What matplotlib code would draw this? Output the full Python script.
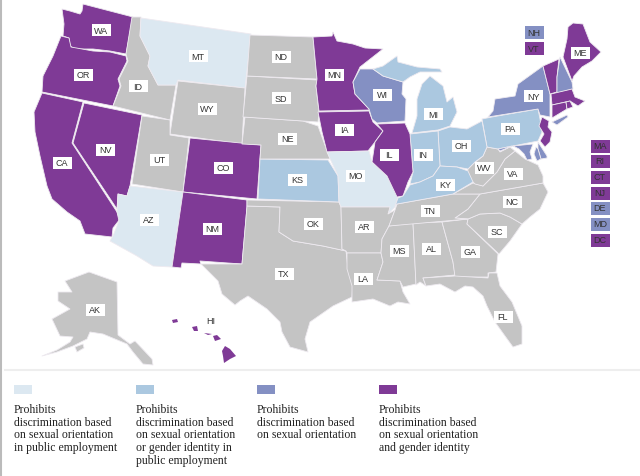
import matplotlib

matplotlib.use('agg')
import matplotlib.pyplot as plt
from matplotlib.patches import Polygon, Rectangle

plt.rcParams["font.family"] = ["Liberation Sans", "DejaVu Sans"]

W, H = 640, 477

# Colours of the four law types plus "no law"
NONE = "#c4c4c4"
PUBLIC_SO = "#dce8f1"
PUBLIC_SOGI = "#abc8e0"
SO_ONLY = "#8490c3"
SO_GI = "#7f3a96"

# State groups
no_law = ["ID", "WY", "UT", "ND", "SD", "NE", "OK", "TX", "AR", "LA", "MS", "AL", "TN", "GA", "SC", "NC", "VA", "WV", "FL", "AK"]
public_so = ["MT", "AZ", "MO"]
public_sogi = ["KS", "IN", "KY", "OH", "PA", "MI"]
so_only = ["WI", "NY", "NH", "MD", "DE"]
so_gi = ["WA", "OR", "CA", "NV", "CO", "NM", "MN", "IA", "IL", "ME", "VT", "MA", "RI", "CT", "NJ", "HI"]

# State outlines (pixels)
shapes = {
    "WA": [[(83, 5), (133, 18), (126, 55), (110, 52), (93, 50), (75, 50), (70, 47), (69, 39), (63, 37), (64, 25), (62, 10), (70, 12), (80, 15), (82, 12)]],
    "OR": [[(61, 37), (69, 39), (71, 48), (93, 52), (110, 53), (126, 57), (127, 62), (118, 80), (120, 87), (113, 107), (42, 93), (43, 77), (53, 57)]],
    "CA": [[(42, 94), (83, 103), (72, 144), (117, 213), (120, 220), (113, 229), (112, 238), (85, 235), (80, 222), (67, 213), (52, 200), (47, 187), (40, 157), (35, 133), (34, 113)]],
    "NV": [[(84, 104), (142, 116), (130, 187), (127, 197), (118, 195), (117, 210), (73, 144)]],
    "ID": [[(132, 18), (141, 18), (140, 37), (150, 57), (148, 67), (158, 86), (176, 86), (170, 121), (113, 107), (121, 87), (119, 80), (128, 62), (126, 55)]],
    "MT": [[(141, 19), (251, 35), (245, 89), (178, 81), (176, 86), (158, 86), (148, 67), (150, 57), (140, 37)]],
    "WY": [[(178, 82), (245, 89), (242, 145), (170, 135)]],
    "UT": [[(142, 117), (170, 121), (170, 136), (189, 139), (183, 193), (132, 185)]],
    "CO": [[(190, 139), (261, 146), (257, 200), (183, 193)]],
    "AZ": [[(130, 187), (183, 193), (172, 268), (153, 267), (137, 257), (110, 242), (113, 237), (119, 222), (117, 213), (118, 195), (127, 197)]],
    "NM": [[(183, 193), (247, 201), (247, 208), (242, 265), (200, 262), (201, 265), (182, 264), (181, 269), (172, 268)]],
    "TX": [[(247, 207), (280, 208), (279, 233), (293, 242), (323, 247), (346, 252), (348, 270), (353, 283), (352, 298), (333, 307), (310, 323), (305, 340), (308, 353), (290, 348), (282, 333), (280, 323), (267, 310), (248, 297), (240, 302), (235, 306), (222, 295), (218, 282), (201, 265), (242, 265)]],
    "OK": [[(247, 201), (339, 203), (341, 208), (342, 250), (346, 252), (323, 247), (293, 242), (279, 233), (280, 208), (247, 207)]],
    "KS": [[(260, 160), (328, 161), (338, 177), (339, 203), (258, 200)]],
    "NE": [[(245, 118), (303, 122), (318, 127), (330, 160), (260, 160), (261, 146), (242, 145)]],
    "SD": [[(247, 77), (317, 81), (316, 87), (319, 113), (318, 123), (303, 122), (243, 118)]],
    "ND": [[(250, 36), (313, 38), (317, 80), (247, 77)]],
    "MN": [[(313, 38), (332, 37), (333, 33), (337, 42), (353, 45), (365, 49), (383, 50), (360, 68), (353, 83), (355, 95), (370, 111), (319, 112), (316, 87), (317, 80)]],
    "IA": [[(318, 113), (369, 112), (373, 123), (383, 132), (375, 143), (368, 152), (327, 153), (322, 133)]],
    "MO": [[(327, 153), (369, 152), (372, 163), (387, 177), (398, 198), (395, 208), (388, 215), (390, 208), (341, 208), (339, 203), (338, 177)]],
    "AR": [[(341, 208), (390, 208), (388, 215), (395, 211), (389, 227), (382, 240), (381, 254), (347, 254), (346, 252), (342, 250)]],
    "LA": [[(347, 254), (381, 254), (383, 263), (377, 281), (400, 282), (403, 293), (410, 305), (398, 303), (390, 307), (373, 300), (352, 303), (352, 287), (347, 270)]],
    "MS": [[(389, 227), (413, 224), (416, 285), (403, 288), (400, 282), (377, 281), (383, 263), (381, 254), (382, 240)]],
    "AL": [[(413, 224), (442, 223), (453, 263), (455, 276), (423, 279), (426, 287), (420, 283), (416, 286)]],
    "GA": [[(442, 223), (468, 220), (467, 225), (498, 255), (496, 273), (488, 274), (488, 278), (455, 278), (453, 263)]],
    "FL": [[(423, 279), (455, 277), (488, 279), (489, 274), (497, 274), (500, 287), (512, 303), (522, 327), (522, 345), (513, 348), (505, 337), (495, 323), (487, 307), (483, 297), (473, 288), (465, 287), (455, 293), (440, 285), (426, 287)]],
    "SC": [[(468, 220), (480, 215), (500, 214), (510, 218), (522, 225), (510, 242), (499, 255), (467, 225)]],
    "NC": [[(480, 195), (543, 184), (548, 193), (540, 210), (530, 218), (522, 225), (510, 218), (500, 214), (480, 215), (468, 220), (455, 219), (468, 210)]],
    "TN": [[(397, 205), (453, 195), (480, 195), (468, 210), (455, 219), (468, 220), (389, 227), (395, 211)]],
    "VA": [[(453, 195), (473, 184), (483, 187), (497, 173), (505, 160), (515, 152), (525, 160), (538, 166), (543, 177), (543, 184), (480, 195)]],
    "WV": [[(473, 165), (483, 157), (487, 148), (498, 150), (500, 153), (510, 148), (515, 152), (505, 160), (497, 173), (483, 187), (475, 185), (467, 177), (468, 170)]],
    "PA": [[(482, 120), (492, 118), (538, 110), (540, 120), (542, 133), (538, 142), (513, 147), (498, 150), (487, 148)]],
    "OH": [[(438, 132), (450, 128), (467, 130), (482, 122), (487, 148), (483, 157), (475, 163), (468, 170), (457, 168), (440, 167)]],
    "IN": [[(410, 135), (438, 132), (440, 167), (433, 177), (420, 183), (410, 185), (413, 173)]],
    "IL": [[(377, 125), (405, 124), (410, 135), (413, 173), (408, 183), (403, 197), (397, 198), (387, 177), (372, 163), (375, 143), (383, 132)]],
    "KY": [[(410, 186), (420, 183), (433, 177), (440, 167), (457, 168), (468, 172), (473, 183), (453, 195), (397, 205), (395, 207), (398, 199), (403, 197)]],
    "WI": [[(360, 70), (373, 70), (383, 77), (403, 83), (402, 95), (406, 100), (405, 122), (377, 124), (372, 120), (369, 110), (355, 95), (353, 83)]],
    "MI": [[(412, 134), (438, 131), (450, 127), (457, 113), (453, 98), (447, 103), (443, 87), (430, 77), (422, 85), (417, 100), (417, 117)],
           [(373, 70), (383, 67), (397, 57), (398, 63), (417, 68), (440, 70), (442, 73), (420, 73), (410, 78), (403, 83), (383, 77)]],
    "NY": [[(488, 118), (493, 112), (495, 100), (515, 97), (518, 85), (543, 67), (550, 95), (550, 118), (540, 116), (538, 110)],
           [(552, 123), (567, 116), (568, 118), (557, 126)]],
    "VT": [[(543, 67), (559, 60), (557, 78), (557, 93), (550, 95)]],
    "NH": [[(560, 58), (572, 83), (573, 90), (557, 94), (557, 78)]],
    "ME": [[(563, 58), (567, 40), (568, 28), (573, 24), (583, 25), (590, 43), (601, 53), (592, 62), (582, 68), (574, 77), (572, 82)]],
    "MA": [[(551, 95), (572, 90), (575, 98), (585, 102), (578, 107), (570, 102), (552, 106)]],
    "CT": [[(552, 106), (566, 103), (567, 110), (552, 119)]],
    "RI": [[(566, 103), (570, 102), (573, 108), (567, 110)]],
    "NJ": [[(542, 118), (549, 122), (548, 128), (552, 133), (550, 143), (545, 148), (540, 142), (544, 135), (539, 127)]],
    "DE": [[(538, 143), (547, 157), (547, 159), (541, 160), (538, 150)]],
    "MD": [[(513, 147), (533, 145), (530, 153), (532, 160), (527, 161), (524, 155), (519, 150)],
           [(498, 150), (512, 147), (500, 152)],
           [(536, 148), (538, 150), (541, 160), (537, 162), (534, 155)]],
    "AK": [[(89, 273), (117, 283), (118, 336), (130, 345), (135, 342), (152, 360), (153, 366), (143, 365), (133, 353), (127, 345), (103, 335), (90, 333), (87, 340), (73, 347), (57, 353), (42, 357), (57, 351), (70, 343), (73, 338), (60, 337), (52, 320), (70, 310), (58, 302), (58, 293), (72, 293), (65, 282)],
           [(75, 348), (83, 345), (84, 349), (77, 353)]],
    "HI": [[(172, 321), (177, 320), (178, 323), (173, 324)],
           [(192, 328), (197, 327), (198, 332), (194, 332)],
           [(204, 334), (212, 335), (208, 336)],
           [(213, 337), (217, 336), (221, 340), (215, 342)],
           [(222, 352), (225, 347), (230, 350), (236, 357), (230, 360), (224, 364), (223, 357)]],
}

# Label centres (pixels)
state_labels = {
    "WA": (101, 31), "OR": (83, 76), "CA": (62, 164), "NV": (105, 151), "ID": (138, 87),
    "MT": (198, 57), "WY": (207, 110), "UT": (159, 161), "CO": (223, 169), "AZ": (149, 221),
    "NM": (212, 230), "ND": (281, 58), "SD": (281, 99), "NE": (287, 140), "KS": (297, 181),
    "OK": (313, 225), "TX": (284, 275), "MN": (334, 76), "IA": (344, 131), "MO": (355, 177),
    "AR": (364, 228), "LA": (363, 280), "WI": (382, 96), "IL": (389, 156), "MS": (399, 252),
    "AL": (431, 250), "TN": (430, 212), "KY": (445, 186), "IN": (423, 156), "MI": (433, 115),
    "OH": (461, 147), "WV": (484, 169), "VA": (513, 175), "NC": (512, 203), "SC": (497, 233),
    "GA": (470, 253), "FL": (503, 318), "PA": (510, 130), "NY": (533, 97), "ME": (580, 54),
    "AK": (95, 311),
}

# Small states keyed in coloured boxes beside the map
side_boxes = {
    "NH": (534, 33), "VT": (534, 49), "MA": (600, 147), "RI": (600, 162), "CT": (600, 178),
    "NJ": (600, 194), "DE": (600, 209), "MD": (600, 225), "DC": (600, 241),
}
side_colors = {"NH": SO_ONLY, "VT": SO_GI, "MA": SO_GI, "RI": SO_GI, "CT": SO_GI,
               "NJ": SO_GI, "DE": SO_ONLY, "MD": SO_ONLY, "DC": SO_GI}

legend_colors = [PUBLIC_SO, PUBLIC_SOGI, SO_ONLY, SO_GI]
legend_x = [14, 136, 257, 379]
legend_text = [
    "Prohibits\ndiscrimination based\non sexual orientation\nin public employment",
    "Prohibits\ndiscrimination based\non sexual orientation\nor gender identity in\npublic employment",
    "Prohibits\ndiscrimination based\non sexual orientation",
    "Prohibits\ndiscrimination based\non sexual orientation\nand gender identity",
]


def state_color(name):
    for group, color in [(no_law, NONE), (public_so, PUBLIC_SO), (public_sogi, PUBLIC_SOGI),
                         (so_only, SO_ONLY), (so_gi, SO_GI)]:
        if name in group:
            return color
    return NONE


fig = plt.figure(figsize=(W / 100, H / 100), dpi=100, facecolor="white")
ax = fig.add_axes([0, 0, 1, 1])
ax.set_xlim(0, W)
ax.set_ylim(H, 0)
ax.axis("off")

# map
for name, parts in shapes.items():
    edge = "none" if name == "HI" else "#eeeaf0"
    for part in parts:
        ax.add_patch(Polygon(part, closed=True, facecolor=state_color(name), edgecolor=edge,
                             linewidth=0.6, joinstyle="round"))

# state name boxes
for name, (x, y) in state_labels.items():
    ax.add_patch(Rectangle((x - 9.5, y - 6), 19, 12, facecolor="white", edgecolor="none", zorder=3))
    ax.text(x, y, name, fontsize=6.5, color="#333333", ha="center", va="center", zorder=4)
ax.text(211, 322, "HI", fontsize=6.5, color="#333333", ha="center", va="center", zorder=4)

for name, (x, y) in side_boxes.items():
    ax.add_patch(Rectangle((x - 9.5, y - 6.5), 19, 13, facecolor=side_colors[name], edgecolor="none", zorder=3))
    ax.text(x, y, name, fontsize=6.5, color="#333333", ha="center", va="center", zorder=4)

# legend area
ax.plot([5, W], [371, 371], color="#eeeeee", linewidth=1.5)
ax.plot([0.5, 0.5], [0, H], color="#bbbbbb", linewidth=1.5)
for x, color, text in zip(legend_x, legend_colors, legend_text):
    ax.add_patch(Rectangle((x, 386), 18, 9, facecolor=color, edgecolor="none"))
    ax.text(x, 404, text, family=["Liberation Serif", "DejaVu Serif"], fontsize=8.45, color="#222222",
            ha="left", va="top", linespacing=1.08)

fig.savefig("out.png", dpi=100)
